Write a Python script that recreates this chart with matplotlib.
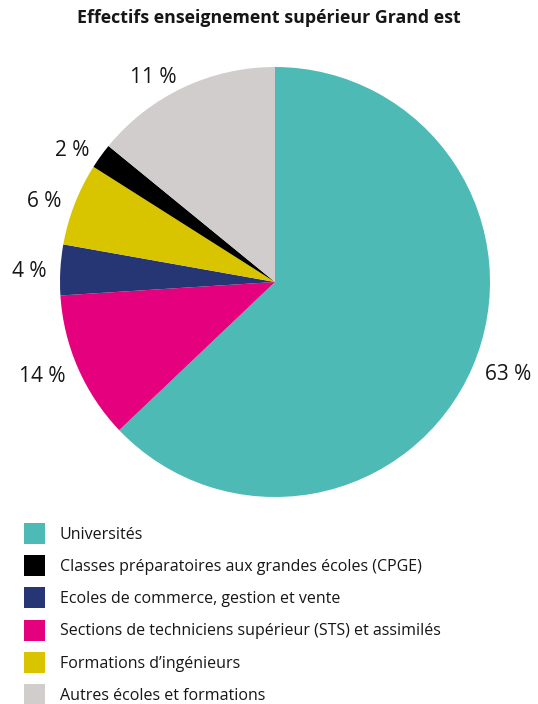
import matplotlib
matplotlib.use("Agg")
import matplotlib.pyplot as plt
from matplotlib.patches import Patch

plt.rcParams['font.family'] = ['Open Sans', 'DejaVu Sans']

title = "Effectifs enseignement supérieur Grand est"
# slices in drawing order (clockwise from top)
slice_names = ["Universités", "Sections de techniciens supérieur (STS) et assimilés",
               "Ecoles de commerce, gestion et vente", "Formations d’ingénieurs",
               "Classes préparatoires aux grandes écoles (CPGE)", "Autres écoles et formations"]
slice_values = [62.9, 11.1, 3.8, 6.2, 1.9, 14.1]
slice_labels = ["63 %", "14 %", "4 %", "6 %", "2 %", "11 %"]
slice_colors = ["#4dbab6", "#e5007e", "#263574", "#d9c400", "#000000", "#d0cdcc"]

legend_order = ["Universités", "Classes préparatoires aux grandes écoles (CPGE)",
                "Ecoles de commerce, gestion et vente",
                "Sections de techniciens supérieur (STS) et assimilés",
                "Formations d’ingénieurs", "Autres écoles et formations"]

W, H = 538, 704
fig = plt.figure(figsize=(W / 100, H / 100), dpi=100)
cx, cy, r = 275, 282, 215
ax = fig.add_axes([(cx - r) / W, (H - cy - r) / H, 2 * r / W, 2 * r / H])
wedges, texts = ax.pie(slice_values, labels=slice_labels, colors=slice_colors,
                       startangle=90, counterclock=False, labeldistance=1.065,
                       wedgeprops=dict(linewidth=0),
                       textprops=dict(fontsize=15, color="#161616"))
for t in texts:
    t.set_va("center_baseline")
ax.set_xlim(-1, 1)
ax.set_ylim(-1, 1)
ax.set_aspect("equal")

fig.text(0.5, 1 - 18 / H, title, ha="center", va="center", fontsize=12.8,
         fontweight="bold", color="#161616")

color_of = dict(zip(slice_names, slice_colors))
handles = [Patch(facecolor=color_of[n], edgecolor="none", label=n) for n in legend_order]
leg = fig.legend(handles=handles, loc="upper left", bbox_to_anchor=(24 / W, 1 - 523 / H),
                 frameon=False, fontsize=11.5, handlelength=1.31, handleheight=1.65,
                 handletextpad=0.94, labelspacing=0.7, borderpad=0, borderaxespad=0)
for t in leg.get_texts():
    t.set_color("#161616")

fig.savefig("out.png", dpi=100)
